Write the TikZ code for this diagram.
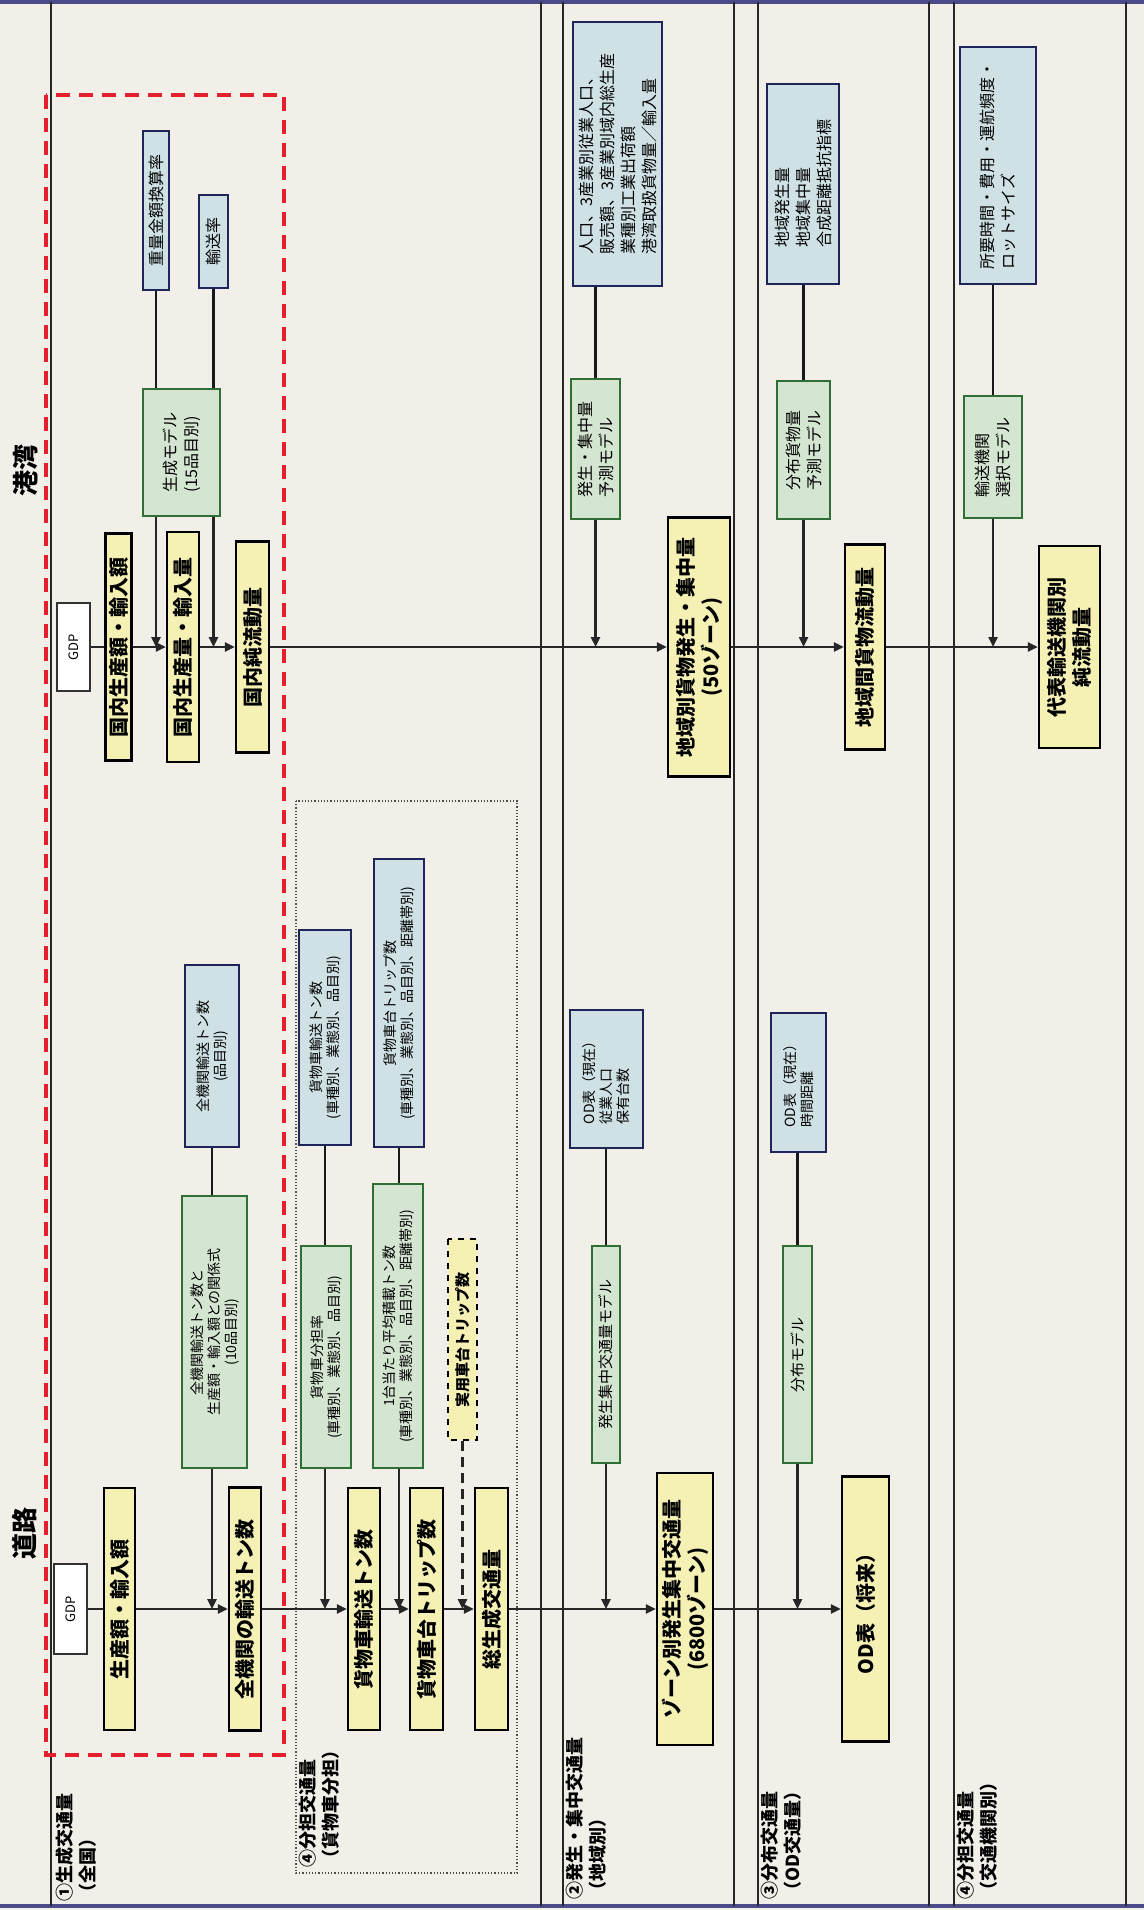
\documentclass[tikz,border=0pt]{standalone}
\usepackage{fontspec}
\setmainfont{Noto Sans CJK JP}
\usetikzlibrary{arrows.meta}

\definecolor{paper}{HTML}{F1EFE8}
\definecolor{yfill}{HTML}{F5F1B5}
\definecolor{gfill}{HTML}{D4E6D1}
\definecolor{gline}{HTML}{2F6E35}
\definecolor{bfill}{HTML}{CFE1E4}
\definecolor{bline}{HTML}{1E2659}
\definecolor{frameblue}{HTML}{4A4C8A}
\definecolor{dashred}{HTML}{E3202B}

\newcommand\ybfont{\fontsize{10}{12.5}\selectfont\bfseries}
\newcommand\portfont{\fontsize{8}{10.5}\selectfont}
\newcommand\roadfont{\fontsize{7}{8.5}\selectfont}
\newcommand\midfont{\fontsize{7.5}{9}\selectfont}
\newcommand\gdpfont{\fontsize{6.5}{8}\selectfont}
\newcommand\labfont{\fontsize{9}{11.5}\selectfont\bfseries}
\newcommand\headfont{\fontsize{13}{15}\selectfont\bfseries}

\tikzset{
  rbox/.style={draw, rotate=90, inner sep=1pt, align=center},
  sz/.style 2 args={minimum width=#2*0.5pt, minimum height=#1*0.5pt},
  ybox/.style={rbox, fill=yfill, draw=black, line width=1.1pt, font=\ybfont},
  gbox/.style={rbox, fill=gfill, draw=gline, line width=0.9pt},
  bbox/.style={rbox, fill=bfill, draw=bline, line width=1pt},
  wbox/.style={rbox, fill=white, draw=black!80, line width=0.8pt, font=\gdpfont},
  lab/.style={rotate=90, align=left, inner sep=0pt, font=\labfont, anchor=north west},
  head/.style={rotate=90, inner sep=0pt, font=\headfont},
  flow/.style={line width=1.2pt, draw=black!85},
  arr/.style={flow, -{Triangle[length=5pt,width=4.5pt]}},
  link/.style={line width=1.2pt, draw=black!90},
  rule/.style={line width=0.7pt, draw=black!85},
}

\begin{document}
\begin{tikzpicture}[x=0.5pt, y=-0.5pt]
\useasboundingbox (0,0) rectangle (1144,1910);
\fill[paper] (0,0) rectangle (1144,1910);

% table frame
\draw[frameblue, line width=2pt] (0,2) -- (1144,2);
\draw[frameblue, line width=2pt] (0,1906) -- (1144,1906);
\foreach \x in {51,541,563,734,758,929,954,1126}
  \draw[rule] (\x,2) -- (\x,1906);

% national-level group and truck share group
\draw[dashred, line width=2pt, dash pattern=on 7pt off 4.5pt] (46,95) rectangle (284,1755);
\draw[black!70, line width=0.6pt, densely dotted] (296,801) rectangle (517,1873);

% headings
\node[head] (hPort) at (26,470) {港湾};
\node[head] (hRoad) at (25,1533) {道路};

% row labels
\node[lab] (l1) at (55,1902) {①生成交通量\\（全国）};
\node[lab] (l4a) at (299,1868) {④分担交通量\\（貨物車分担）};
\node[lab] (l2) at (566,1900) {②発生・集中交通量\\（地域別）};
\node[lab] (l3) at (761,1900) {③分布交通量\\（OD交通量）};
\node[lab] (l4b) at (957,1900) {④分担交通量\\（交通機関別）};

% ---------- port ----------
\node[wbox, sz={33}{88}] (pGDP) at (73.5,647) {GDP};
\node[ybox, sz={26}{227}] (pProd) at (118.5,647) {国内生産額・輸入額};
\node[ybox, sz={32}{230}] (pVol) at (183,647) {国内生産量・輸入量};
\node[ybox, sz={33}{211}] (pNet) at (252.5,647) {国内純流動量};
\node[gbox, sz={77}{127}, font=\portfont, align=left] (pGen) at (181.5,452.5) {生成モデル\\(15品目別)};
\node[bbox, sz={26}{159}, font=\portfont] (pConv) at (156,210.5) {重量金額換算率};
\node[bbox, sz={29}{93}, font=\portfont] (pRate) at (213.5,241.5) {輸送率};

\node[ybox, sz={62}{259}] (pReg) at (699,647) {地域別貨物発生・集中量\\(50ゾーン)};
\node[gbox, sz={49}{140}, font=\portfont, align=left] (pGM) at (595.5,449) {発生・集中量\\予測モデル};
\node[bbox, sz={89}{264}, font=\portfont, align=left] (pGI) at (617.5,154) {人口、3産業別従業人口、\\販売額、3産業別域内総生産\\業種別工業出荷額\\港湾取扱貨物量／輸入量};

\node[ybox, sz={40}{205}] (pInter) at (865,647) {地域間貨物流動量};
\node[gbox, sz={53}{138}, font=\portfont, align=left] (pDM) at (803.5,450) {分布貨物量\\予測モデル};
\node[bbox, sz={72}{200}, font=\portfont, align=left] (pDI) at (803,184) {地域発生量\\地域集中量\\合成距離抵抗指標};

\node[ybox, sz={61}{202}] (pMode) at (1069.5,647) {代表輸送機関別\\純流動量};
\node[gbox, sz={58}{122}, font=\portfont, align=left] (pMM) at (993,457) {輸送機関\\選択モデル};
\node[bbox, sz={76}{237}, font=\portfont, align=left] (pMI) at (998,165.5) {所要時間・費用・運航頻度・\\ロットサイズ};

% port flow
\draw[flow] (pGDP) -- (pProd);
\draw[arr] (pProd) -- (pVol);
\draw[arr] (pVol) -- (pNet);
\draw[arr] (pNet) -- (pReg);
\draw[arr] (pReg) -- (pInter);
\draw[arr] (pInter) -- (pMode);

\draw[link] (pConv) -- (pConv |- pGen.east);
\draw[link] (pRate) -- (pRate |- pGen.east);
\draw[arr] (pConv |- pGen.west) -- (pConv |- pNet.center);
\draw[arr] (pRate |- pGen.west) -- (pRate |- pNet.center);
\draw[link] (pGM.east) -- (pGM.east |- pGI.west);
\draw[arr] (pGM.west) -- (pGM.west |- pReg.center);
\draw[link] (pDM.east) -- (pDM.east |- pDI.west);
\draw[arr] (pDM.west) -- (pDM.west |- pInter.center);
\draw[link] (pMM.east) -- (pMM.east |- pMI.west);
\draw[arr] (pMM.west) -- (pMM.west |- pMode.center);

% ---------- road ----------
\node[wbox, sz={33}{90}] (rGDP) at (70.5,1609) {GDP};
\node[ybox, sz={31}{242}] (rProd) at (119.5,1609) {生産額・輸入額};
\node[ybox, sz={32}{243}] (rTon) at (245,1609) {全機関の輸送トン数};
\node[gbox, sz={65}{272}, font=\roadfont] (rRel) at (214.5,1332) {全機関輸送トン数と\\生産額・輸入額との関係式\\(10品目別)};
\node[bbox, sz={54}{182}, font=\roadfont] (rAll) at (212,1056) {全機関輸送トン数\\(品目別)};

\node[ybox, sz={32}{242}] (rTruckTon) at (364,1609) {貨物車輸送トン数};
\node[ybox, sz={33}{242}] (rTrip) at (426.5,1609) {貨物車台トリップ数};
\node[ybox, sz={33}{242}] (rTotal) at (491.5,1609) {総生成交通量};
\node[gbox, sz={50}{222}, font=\roadfont] (rShare) at (326,1357) {貨物車分担率\\(車種別、業態別、品目別)};
\node[bbox, sz={52}{215}, font=\roadfont] (rTT) at (325,1037.5) {貨物車輸送トン数\\(車種別、業態別、品目別)};
\node[gbox, sz={50}{284}, font=\roadfont] (rLoad) at (398,1326) {1台当たり平均積載トン数\\(車種別、業態別、品目別、距離帯別)};
\node[bbox, sz={50}{288}, font=\roadfont] (rTrips) at (399,1003) {貨物車台トリップ数\\(車種別、業態別、品目別、距離帯別)};
\node[ybox, sz={29}{201}, dashed, font=\midfont\bfseries] (rPriv) at (462.5,1339.5) {実用車台トリップ数};

\node[ybox, sz={56}{272}] (rZone) at (685,1609) {ゾーン別発生集中交通量\\(6800ゾーン)};
\node[gbox, sz={28}{217}, font=\midfont] (rGM) at (606,1354.5) {発生集中交通量モデル};
\node[bbox, sz={73}{138}, font=\roadfont, align=left] (rGI) at (606.5,1079) {OD表（現在）\\従業人口\\保有台数};

\node[ybox, sz={47}{265}] (rOD) at (865.5,1609) {OD表（将来）};
\node[gbox, sz={29}{217}, font=\midfont] (rDM) at (797.5,1354.5) {分布モデル};
\node[bbox, sz={55}{139}, font=\roadfont, align=left] (rDI) at (798.5,1082.5) {OD表（現在）\\時間距離};

% road flow
\draw[flow] (rGDP) -- (rProd);
\draw[arr] (rProd) -- (rTon);
\draw[arr] (rTon) -- (rTruckTon);
\draw[arr] (rTruckTon) -- (rTrip);
\draw[arr] (rTrip) -- (rTotal);
\draw[arr] (rTotal) -- (rZone);
\draw[arr] (rZone) -- (rOD);

\draw[link] (rAll) -- (rAll |- rRel.east);
\draw[arr] (rAll |- rRel.west) -- (rAll |- rTon.center);
\draw[link] (rTT) -- (rTT |- rShare.east);
\draw[arr] (rTT |- rShare.west) -- (rTT |- rTruckTon.center);
\draw[link] (rTrips) -- (rTrips |- rLoad.east);
\draw[arr] (rTrips |- rLoad.west) -- (rTrips |- rTrip.center);
\draw[arr, dash pattern=on 5pt off 3pt] (rPriv) -- (rPriv |- rTotal.center);
\draw[link] (rGM.east) -- (rGM.east |- rGI.west);
\draw[arr] (rGM.west) -- (rGM.west |- rZone.center);
\draw[link] (rDM.east) -- (rDM.east |- rDI.west);
\draw[arr] (rDM.west) -- (rDM.west |- rOD.center);
\end{tikzpicture}
\end{document}
